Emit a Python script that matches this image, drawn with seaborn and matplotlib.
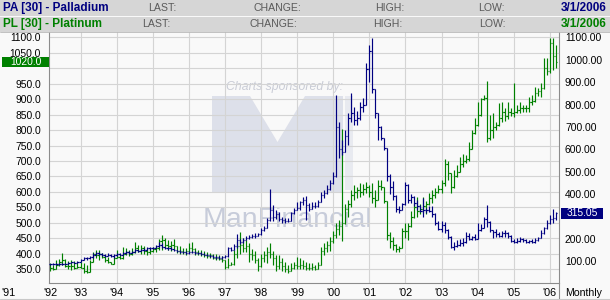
import numpy as np
import pandas as pd
import matplotlib
matplotlib.use("Agg")
import matplotlib.pyplot as plt
import matplotlib.transforms as mtransforms
from matplotlib.patches import Rectangle, Polygon
from matplotlib.lines import Line2D
import seaborn as sns

# ---------------- data (monthly, Mar 1992 .. Mar 2006) ----------------
start_month = "1992-03-01"
end_month = "2006-03-01"

# Palladium (PA) - right axis, navy
pa_close = [86, 88, 87, 89, 88, 90, 92, 95, 94, 97,
            108, 114, 113, 118, 130, 136, 134, 128, 125, 130, 122, 126,
            131, 130, 135, 140, 138, 142, 150, 145, 150, 152, 160, 158,
            160, 168, 175, 164, 160, 158, 155, 150, 146, 142, 140, 138,
            140, 142, 136, 138, 134, 130, 128, 124, 120, 118, 116, 118,
            122, 158, 152, 168, 196, 185, 195, 205, 210, 212, 215, 220,
            240, 250, 285, 330, 300, 310, 290, 285, 280, 282, 314, 330,
            340, 365, 375, 350, 335, 345, 345, 365, 395, 405, 425, 450,
            480, 700, 600, 590, 660, 740, 760, 730, 740, 790, 800, 960,
            1040, 870, 760, 700, 650, 605, 480, 430, 390, 335, 330, 355,
            440, 375, 385, 360, 345, 325, 330, 330, 325, 310, 270, 245,
            260, 240, 210, 165, 170, 175, 180, 185, 215, 200, 210, 200,
            240, 250, 290, 275, 240, 230, 220, 215, 225, 225, 215, 190,
            185, 190, 200, 195, 185, 190, 185, 195, 205, 225, 250, 270,
            290, 295, 315.05]
pa_high = [90, 92, 91, 93, 92, 94, 96, 99, 98, 102,
           112, 118, 119, 122, 136, 142, 142, 136, 132, 137, 132, 131,
           136, 136, 140, 145, 144, 148, 156, 152, 155, 158, 165, 163,
           165, 172, 184, 180, 166, 164, 162, 156, 152, 150, 146, 144,
           145, 148, 144, 142, 140, 136, 133, 130, 126, 123, 122, 122,
           126, 165, 165, 176, 220, 200, 202, 215, 218, 222, 225, 228,
           250, 258, 293, 423, 350, 330, 318, 300, 292, 295, 320, 340,
           366, 370, 388, 390, 360, 366, 366, 373, 410, 418, 440, 463,
           500, 842, 722, 641, 686, 760, 851, 790, 770, 810, 829, 985,
           1066, 1097, 870, 760, 705, 650, 605, 490, 460, 395, 345, 362,
           454, 445, 400, 390, 375, 350, 383, 340, 345, 345, 315, 280,
           280, 275, 245, 215, 185, 195, 200, 204, 230, 225, 215, 220,
           271, 265, 300, 350, 280, 242, 245, 230, 235, 240, 230, 217,
           200, 205, 208, 205, 200, 196, 200, 205, 210, 240, 255, 285,
           307, 333, 320]
pa_low = [82, 84, 84, 85, 85, 86, 89, 91, 91, 93,
          96, 106, 108, 110, 116, 127, 128, 123, 118, 122, 118, 117,
          124, 126, 128, 133, 132, 136, 140, 140, 144, 146, 150, 152,
          155, 160, 164, 158, 153, 151, 149, 144, 140, 137, 135, 132,
          134, 136, 132, 132, 129, 126, 123, 119, 115, 112, 110, 110,
          115, 121, 145, 150, 160, 176, 182, 195, 200, 204, 206, 212,
          218, 236, 248, 282, 280, 290, 278, 272, 270, 275, 280, 310,
          328, 330, 350, 285, 325, 333, 340, 343, 363, 384, 400, 420,
          445, 478, 561, 575, 588, 620, 720, 710, 708, 730, 767, 798,
          900, 851, 740, 640, 640, 597, 460, 400, 374, 320, 316, 328,
          350, 360, 362, 345, 330, 318, 298, 316, 318, 300, 262, 240,
          232, 226, 200, 160, 150, 165, 168, 170, 183, 195, 195, 195,
          198, 235, 248, 255, 231, 205, 210, 210, 210, 210, 205, 186,
          180, 180, 188, 188, 182, 180, 180, 183, 190, 203, 220, 245,
          265, 272, 285]

# Platinum (PL) - left axis, green
pl_close = [355, 352, 365, 375, 380, 360, 362, 360, 355, 358,
            355, 345, 342, 375, 400, 395, 400, 390, 380, 372, 368, 385,
            390, 385, 400, 405, 398, 405, 420, 410, 418, 410, 405, 410,
            415, 420, 440, 445, 430, 425, 430, 425, 410, 410, 405, 410,
            420, 415, 405, 402, 398, 395, 392, 395, 388, 385, 382, 380,
            358, 365, 368, 400, 425, 430, 420, 425, 400, 395, 380, 360,
            385, 395, 405, 400, 385, 360, 375, 360, 350, 345, 355, 365,
            360, 365, 360, 355, 355, 358, 352, 365, 410, 420, 430, 440,
            460, 480, 490, 500, 545, 560, 590, 600, 605, 600, 610, 615,
            600, 580, 575, 620, 615, 570, 460, 440, 430, 415, 420, 475,
            475, 490, 520, 550, 540, 545, 555, 560, 580, 590, 600, 610,
            630, 690, 660, 615, 650, 665, 690, 700, 705, 740, 790, 815,
            850, 900, 905, 775, 800, 810, 815, 840, 860, 845, 860, 855,
            860, 865, 870, 870, 870, 890, 895, 920, 925, 935, 1000, 990,
            1080, 1040, 1020]
pl_high = [369, 364, 380, 382, 402, 382, 378, 380, 378, 375,
           375, 369, 364, 380, 407, 412, 412, 402, 395, 391, 373, 391,
           412, 400, 423, 418, 412, 418, 439, 430, 428, 425, 420, 418,
           423, 425, 447, 461, 450, 445, 440, 447, 425, 425, 420, 418,
           434, 437, 418, 412, 412, 410, 405, 402, 400, 398, 395, 392,
           380, 385, 372, 412, 440, 472, 450, 445, 435, 415, 410, 385,
           400, 410, 423, 434, 410, 395, 395, 385, 375, 365, 370, 375,
           391, 385, 380, 375, 369, 369, 365, 372, 423, 434, 440, 455,
           475, 500, 510, 803, 560, 574, 606, 622, 615, 628, 625, 632,
           622, 628, 606, 640, 640, 615, 570, 470, 455, 432, 425, 485,
           500, 500, 540, 564, 584, 560, 584, 570, 597, 606, 613, 622,
           640, 705, 700, 660, 670, 687, 713, 722, 720, 762, 800, 840,
           890, 905, 915, 958, 849, 855, 825, 887, 890, 871, 890, 870,
           952, 881, 890, 881, 881, 907, 913, 939, 935, 952, 1033, 1033,
           1097, 1097, 1075]
pl_low = [343, 348, 350, 362, 364, 358, 352, 348, 352, 353,
          353, 337, 337, 340, 374, 385, 380, 385, 375, 369, 366, 367,
          385, 383, 383, 396, 392, 395, 403, 405, 400, 400, 395, 398,
          405, 405, 412, 412, 420, 412, 410, 412, 402, 400, 398, 396,
          402, 405, 396, 396, 392, 390, 385, 385, 382, 380, 380, 375,
          352, 355, 364, 365, 385, 400, 405, 405, 375, 380, 370, 345,
          358, 375, 369, 386, 365, 345, 350, 345, 340, 338, 343, 350,
          350, 352, 350, 348, 348, 348, 348, 350, 363, 395, 405, 410,
          434, 450, 460, 440, 498, 520, 551, 575, 580, 584, 590, 596,
          584, 564, 551, 573, 605, 564, 445, 420, 413, 405, 406, 418,
          450, 445, 488, 515, 519, 530, 532, 530, 558, 565, 580, 597,
          597, 620, 640, 597, 613, 648, 663, 680, 695, 700, 738, 788,
          813, 845, 898, 760, 768, 774, 800, 813, 826, 830, 835, 845,
          842, 855, 855, 860, 860, 858, 880, 890, 910, 907, 933, 978,
          984, 994, 1000]

left_ticks = list(range(350, 1101, 50))
right_ticks = list(range(100, 1101, 100))
year_labels = ["'91", "'92", "'93", "'94", "'95", "'96", "'97", "'98",
               "'99", "'00", "'01", "'02", "'03", "'04", "'05", "'06"]
pa_name = "PA [30] - Palladium"
pl_name = "PL [30] - Platinum"
header_fields = ["LAST:", "CHANGE:", "HIGH:", "LOW:"]
last_date = "3/1/2006"

PA_COLOR = "#000080"
PL_COLOR = "#008000"

# ---------------- style ----------------
sns.set_theme(style="white")
plt.rcParams["font.family"] = ["Liberation Sans", "DejaVu Sans"]

W, H = 610, 300
BG = "#f9f9f9"
fig = plt.figure(figsize=(W / 100, H / 100), dpi=100, facecolor=BG)


def fx(px):
    return px / W


def fy(py):
    return 1 - py / H


L, R, T, B = 49, 559, 32, 282.7
ax = fig.add_axes([fx(L), fy(B), fx(R) - fx(L), fy(T) - fy(B)])
ax.set_facecolor(BG)
ax2 = ax.twinx()

# x scale: fractional years
months = pd.date_range(start_month, end_month, freq="MS")
xs = np.array(months.year + (months.month - 1) / 12.0)
x_year0 = 44.4   # pixel of Jan 1992
px_year = 36.1
ax.set_xlim(1992 + (L - x_year0) / px_year, 1992 + (R - x_year0) / px_year)


def lv(py):
    return 1100 - (py - 37.3) * 3.233


def rv(py):
    return 1100 - (py - 37.3) * 4.464


ax.set_ylim(lv(B), lv(T))
ax2.set_ylim(rv(B), rv(T))

# labels hidden behind the last-value boxes in the reference
left_hidden = {1000}
right_hidden = {300}

ax.set_axisbelow(True)
ax.set_yticks(left_ticks)
ax.set_yticklabels(["" if v in left_hidden else f"{v:.1f}" for v in left_ticks])
ax.set_xticks(list(range(1993, 2007)))
ax.set_xticklabels([])
ax.grid(True, color="#d4d4d4", linewidth=0.8)
ax2.set_yticks(right_ticks)
ax2.set_yticklabels(["" if v in right_hidden else f"{v:.2f}" for v in right_ticks])
ax2.grid(False)

ax.tick_params(axis="y", length=0, pad=5.8, labelsize=7.4, labelcolor="black")
ax.tick_params(axis="x", length=0)
ax2.tick_params(axis="y", length=0, pad=4.3, labelsize=7.4, labelcolor="black")

ax.spines["top"].set_visible(False)
for s in ["left", "right", "bottom"]:
    ax.spines[s].set_color("#8c8c8c")
    ax.spines[s].set_linewidth(0.8)
for s in ax2.spines.values():
    s.set_visible(False)

# ---------------- watermark ----------------
wm_col = "#dde0ea"
logo = Polygon([(fx(212), fy(192)), (fx(212), fy(96)), (fx(250), fy(96)),
                (fx(277.5), fy(142)), (fx(305), fy(96)), (fx(343), fy(96)),
                (fx(343), fy(192))], closed=True, transform=fig.transFigure,
               facecolor=wm_col, edgecolor="none", zorder=0.2)
ax.add_patch(logo)
ax.add_patch(Rectangle((fx(345), fy(190)), fx(8), 94 / H, transform=fig.transFigure,
                       facecolor="#e8eaf0", edgecolor="none", zorder=0.2))
ax.text(fx(226), fy(87), "Charts sponsored by:", transform=fig.transFigure,
        fontsize=8.8, style="italic", color="#c9ccd6", ha="left", va="center",
        zorder=0.3)
ax.text(fx(203), fy(227), "ManFinancial", transform=fig.transFigure,
        fontsize=20.5, color="#c7ccda", ha="left", va="baseline", zorder=0.3)

# ---------------- OHLC bars ----------------
w = 0.42 / 12


def ohlc(axis, x, hi, lo, cl, color):
    hi = np.asarray(hi, float)
    lo = np.asarray(lo, float)
    cl = np.asarray(cl, float)
    op = np.concatenate([[cl[0]], cl[:-1]])
    axis.vlines(x, lo, hi, color=color, linewidth=0.85, zorder=2)
    axis.hlines(op, x - w, x, color=color, linewidth=0.85, zorder=2)
    axis.hlines(cl, x, x + w, color=color, linewidth=0.85, zorder=2)


ohlc(ax, xs, pl_high, pl_low, pl_close, PL_COLOR)
ohlc(ax2, xs, pa_high, pa_low, pa_close, PA_COLOR)

# ---------------- last-value boxes ----------------
tl = mtransforms.blended_transform_factory(ax.transAxes, ax.transData)
ax.add_patch(Rectangle(((2 - L) / (R - L), pl_close[-1] - 5.4 * 3.233), 47 / (R - L),
                       10.8 * 3.233, transform=tl, facecolor=PL_COLOR,
                       edgecolor="none", clip_on=False, zorder=10))
ax.text((25.5 - L) / (R - L), pl_close[-1], f"{pl_close[-1]:.1f}", transform=tl,
        color="white", fontsize=7.4, ha="center", va="center", clip_on=False,
        zorder=11)
tr = mtransforms.blended_transform_factory(ax2.transAxes, ax2.transData)
ax2.add_patch(Rectangle(((561 - L) / (R - L), pa_close[-1] - 5.4 * 4.464),
                        42 / (R - L), 10.8 * 4.464, transform=tr,
                        facecolor=PA_COLOR, edgecolor="none", clip_on=False,
                        zorder=10))
ax2.text((582 - L) / (R - L), pa_close[-1], f"{pa_close[-1]:.2f}", transform=tr,
         color="white", fontsize=7.4, ha="center", va="center", clip_on=False,
         zorder=11)

# ---------------- year labels ----------------
tx = mtransforms.blended_transform_factory(ax.transData, ax.transAxes)
label_pos = [1991.0, 1992 + (50 - x_year0) / px_year] + list(range(1993, 2007))
ylab = (B - 293.3) / (B - T)
for xp, lab in zip(label_pos, year_labels):
    ax.text(xp, ylab, lab, transform=tx, ha="center", va="center",
            fontsize=7.8, color="black", clip_on=False)
fig.text(fx(565), fy(293.3), "Monthly", ha="left", va="center", fontsize=7.6,
         color="black")

# extra frame lines
fig.add_artist(Line2D([fx(R), fx(R)], [fy(B), fy(298.5)], transform=fig.transFigure,
                      color="#8c8c8c", linewidth=0.8))
fig.add_artist(Line2D([0, 1], [fy(298.5), fy(298.5)], transform=fig.transFigure,
                      color="#c8c8c8", linewidth=0.8))

# ---------------- header ----------------
HDR = "#d6d6d6"
fig.add_artist(Rectangle((0, fy(15.5)), 1, 15.5 / H, transform=fig.transFigure,
                         facecolor=HDR, edgecolor="none"))
fig.add_artist(Rectangle((0, fy(32)), 1, 15.5 / H, transform=fig.transFigure,
                         facecolor=HDR, edgecolor="none"))
fig.add_artist(Line2D([0, 1], [fy(32), fy(32)], transform=fig.transFigure,
                      color="#b8b8b8", linewidth=0.6))

rows = [(8, pa_name, PA_COLOR, [148, 253, 375, 478]),
        (24, pl_name, PL_COLOR, [142, 249.5, 373, 479])]
for yy, name, col, xpos in rows:
    fig.text(fx(3), fy(yy), name, color=col, fontsize=8.5, fontweight="bold",
             ha="left", va="center")
    for xp, lab in zip(xpos, header_fields):
        fig.text(fx(xp), fy(yy), lab, color="#5a5a5a", fontsize=7.6,
                 ha="left", va="center")
    fig.text(fx(606.5), fy(yy), last_date, color=col, fontsize=8.5,
             fontweight="bold", ha="right", va="center")

fig.savefig("out.png", dpi=100, facecolor=BG)
